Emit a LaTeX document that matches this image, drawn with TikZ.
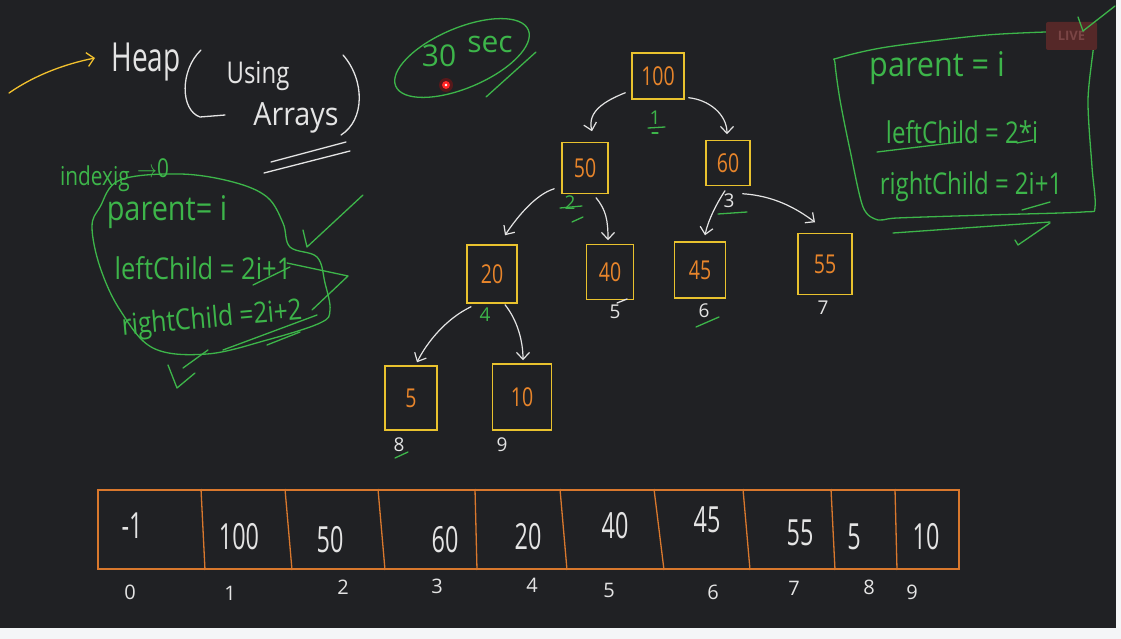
\documentclass[tikz,border=0pt]{standalone}
\usepackage{fontspec}
\setmainfont{Open Sans}
\usetikzlibrary{arrows.meta,calc}
\definecolor{bg}{HTML}{202124}
\definecolor{pagebg}{HTML}{F4F5F7}
\definecolor{boxy}{HTML}{E9C22E}
\definecolor{numo}{HTML}{E8852B}
\definecolor{grn}{HTML}{3DB54A}
\definecolor{chalk}{HTML}{E4E4E4}
\definecolor{arrc}{HTML}{D9782D}
\definecolor{ylw}{HTML}{F2C12E}
\definecolor{livebg}{HTML}{552828}
\definecolor{livetx}{HTML}{7A4545}
\newcommand{\hsq}[2]{\scalebox{#1}[1]{#2}}
\tikzset{
  heapnode/.style={draw=boxy, line width=1.5pt, inner sep=0pt, text=numo,
     font=\fontsize{26}{26}\selectfont},
  tedge/.style={draw=chalk, line width=1.2pt, line cap=round,
     -{Straight Barb[length=7pt,width=13pt]}},
  idxw/.style={text=chalk, inner sep=0pt, font=\fontsize{19}{19}\selectfont},
  idxg/.style={text=grn, inner sep=0pt, font=\fontsize{19}{19}\selectfont},
  arrnum/.style={text=chalk, inner sep=0pt, font=\fontsize{36}{36}\selectfont},
  arridx/.style={text=chalk, inner sep=0pt, font=\fontsize{20}{20}\selectfont},
  gtxt/.style={text=grn, inner sep=0pt},
  wtxt/.style={text=chalk, inner sep=0pt},
  gline/.style={draw=grn, line width=1.3pt, line cap=round, line join=round},
  wline/.style={draw=chalk, line width=1.3pt, line cap=round, line join=round},
}
\begin{document}
\begin{tikzpicture}[x=1pt,y=-1pt]
\fill[pagebg] (0,0) rectangle (1121,639);
\fill[bg] (0,0) rectangle (1116,628);
\useasboundingbox (0,0) rectangle (1121,639);

% ---------- title ----------
\draw[draw=ylw, line width=1.3pt, line cap=round, -{Straight Barb[length=7pt,width=14pt]}]
  (9,93) .. controls (35,75) and (65,64) .. (95,58);
\node[wtxt, font=\fontsize{40}{40}\selectfont] (title) at (146,62) {\hsq{0.7}{Heap}};
\draw[wline] (201,50) .. controls (180,70) and (180,110) .. (200,117) -- (225,115);
\node[wtxt, font=\fontsize{30}{30}\selectfont] (using) at (258,76) {\hsq{0.8}{Using}};
\node[wtxt, font=\fontsize{32}{32}\selectfont] (arrays) at (296,118) {\hsq{0.9}{Arrays}};
\draw[wline] (343,55) .. controls (365,80) and (365,120) .. (341,135);
\draw[wline] (271,162) -- (346,142);
\draw[wline] (264,173) -- (350,151);

% ---------- 30 sec ----------
\draw[gline] [rotate around={23:(462,58)}] (462,58) ellipse [x radius=72pt, y radius=30pt];
\draw[gline] (486,97) -- (536,52);
\node[gtxt, font=\fontsize{30}{30}\selectfont] (sec30) at (439,56) {30};
\node[gtxt, font=\fontsize{30}{30}\selectfont] (secw) at (490,44) {sec};
\fill[red, opacity=0.25] (446,85) circle (7pt);
\fill[red!85!white] (446,85) circle (4pt);
\fill[white] (446,85) circle (1.3pt);

% ---------- left green note ----------
\node[gtxt, font=\fontsize{26}{26}\selectfont] (idxw) at (95,179) {\hsq{0.8}{indexig}};
\node[gtxt, font=\fontsize{26}{26}\selectfont] (idxv) at (153,168) {\hsq{0.8}{$\rightarrow$0}};
\draw[gline] plot[smooth cycle, tension=0.6] coordinates {
  (120,180) (180,174) (233,182) (267,197) (283,223) (290,247) (317,257)
  (325,283) (330,310) (320,323) (267,340) (207,354) (153,348) (120,310)
  (100,267) (92,227) (100,207)};
\node[gtxt, font=\fontsize{34}{34}\selectfont] (lpar) at (167,212) {\hsq{0.85}{parent= i}};
\node[gtxt, font=\fontsize{30}{30}\selectfont] (llc) at (203,268) {\hsq{0.85}{leftChild = 2i+1}};
\node[gtxt, font=\fontsize{29}{29}\selectfont, rotate=5] (lrc) at (212,320) {\hsq{0.85}{rightChild =2i+2}};
\draw[gline] (287,263) -- (348,276) -- (312,310);
\draw[gline] (253,285) -- (290,267);
\draw[gline] (223,350) -- (317,315);
\draw[gline] (267,345) -- (300,332);
\draw[gline] (303,230) -- (307,247) -- (363,195);
\draw[gline] (168,365) -- (177,388) -- (195,373);
\draw[gline] (183,368) -- (208,350);

% ---------- right green note ----------
\draw[gline] plot[smooth cycle, tension=0.5] coordinates {
  (838,58) (887,47) (987,35) (1080,31) (1092,33) (1094,42) (1088,100)
  (1092,167) (1095,207) (1083,212) (987,215) (897,218) (878,220)
  (863,207) (850,150) (840,100) (835,63)};
\fill[livebg, rounded corners=2pt] (1046,22) rectangle (1097,50);
\node[text=livetx, font=\bfseries\fontsize{13}{13}\selectfont] (live) at (1071.5,36) {LIVE};
\draw[gline] (1083,31) -- (1115,6);
\draw[gline] (1078,17) -- (1083,31);
\node[gtxt, font=\fontsize{34}{34}\selectfont] (rpar) at (937,68) {\hsq{0.9}{parent = i}};
\node[gtxt, font=\fontsize{30}{30}\selectfont] (rlc) at (962,132) {\hsq{0.8}{leftChild = 2*i}};
\node[gtxt, font=\fontsize{30}{30}\selectfont] (rrc) at (971,187) {\hsq{0.8}{rightChild = 2i+1}};
\draw[gline] (877,152) -- (960,142);
\draw[gline] (1017,143) -- (1033,140);
\draw[gline] (1022,210) -- (1050,202);
\draw[gline] (893,233) -- (1050,222);
\draw[gline] (1015,240) -- (1018,245) -- (1050,223);

% ---------- tree ----------
\node[heapnode, minimum width=52pt, minimum height=46pt] (n100) at (658,76) {\hsq{0.75}{100}};
\node[heapnode, minimum width=46pt, minimum height=51pt] (n50) at (585,168) {\hsq{0.75}{50}};
\node[heapnode, minimum width=44pt, minimum height=45pt] (n60) at (728,163) {\hsq{0.75}{60}};
\node[heapnode, minimum width=50pt, minimum height=58pt] (n20) at (492,274) {\hsq{0.75}{20}};
\node[heapnode, minimum width=47pt, minimum height=55pt] (n40) at (610,272) {\hsq{0.75}{40}};
\node[heapnode, minimum width=51pt, minimum height=56pt] (n45) at (700,270) {\hsq{0.75}{45}};
\node[heapnode, minimum width=54pt, minimum height=61pt] (n55) at (825,264) {\hsq{0.75}{55}};
\node[heapnode, minimum width=52pt, minimum height=64pt] (n5) at (411,398) {\hsq{0.75}{5}};
\node[heapnode, minimum width=59pt, minimum height=66pt] (n10) at (522,397) {\hsq{0.75}{10}};

\draw[tedge] ($(n100.south west)+(-6,-7)$) .. controls +(-20,8) and +(-5,-20) .. ($(n50.north)+(7,-10.5)$);
\draw[tedge] ($(n100.south east)+(4,-2)$) .. controls +(20,2) and +(0,-20) .. ($(n60.north)+(-1,-5.5)$);
\draw[tedge] ($(n50.south west)+(-7,-5.5)$) .. controls +(-20,6) and +(10,-15) .. ($(n20.north)+(13,-9)$);
\draw[tedge] ($(n50.south)+(11,3.5)$) .. controls +(10,12) and +(0,-20) .. ($(n40.north)+(-2,-3.5)$);
\draw[tedge] ($(n60.south)+(-3,4.5)$) .. controls +(-8,12) and +(3,-15) .. ($(n45.north)+(5,-6)$);
\draw[tedge] ($(n60.south east)+(-8,7.5)$) .. controls +(30,2) and +(-20,-15) .. ($(n55.north)+(-10,-10.5)$);
\draw[tedge] ($(n20.south)+(-21,3)$) .. controls +(-25,12) and +(10,-20) .. ($(n5.north)+(6,-3)$);
\draw[tedge] ($(n20.south)+(13,1)$) .. controls +(12,15) and +(0,-20) .. ($(n10.north)+(1,-3)$);

% tree index labels
\node[idxg] (t1) at (655,118) {1};
\draw[gline] (648,128) -- (665,127);
\draw[gline] (652,133) -- (658,133);
\node[idxg] (t2) at (570,203) {2};
\draw[gline] (560,208) -- (582,206);
\draw[gline] (572,222) -- (583,217);
\node[idxw] (t3) at (729,201) {3};
\draw[gline] (718,214) -- (747,212);
\node[idxg] (t4) at (485,315) {4};
\node[idxw] (t5) at (615,312) {5};
\draw[wline] (617,303) -- (627,299);
\node[idxw] (t6) at (704,311) {6};
\draw[gline] (696,327) -- (719,317);
\node[idxw] (t7) at (823,308) {7};
\node[idxw] (t8) at (399,445) {8};
\draw[gline] (395,458) -- (408,452);
\node[idxw] (t9) at (502,445) {9};

% ---------- array ----------
\node[draw=arrc, line width=2pt, minimum width=861pt, minimum height=79pt, inner sep=0pt] (array) at (528.5,529.5) {};
\foreach \a/\b in {104/108,188/195,281/288,378/380,463/470,557/567,646/653,734/738,798/800}
  \draw[draw=arrc, line width=1.3pt] ($(array.north west)+(\a,0)$) -- ($(array.south west)+(\b,0)$);

\node[arrnum] (c0) at (132,526) {\hsq{0.65}{-1}};
\node[arrnum] (c1) at (239,537) {\hsq{0.65}{100}};
\node[arrnum] (c2) at (330,540) {\hsq{0.65}{50}};
\node[arrnum] (c3) at (445,540) {\hsq{0.65}{60}};
\node[arrnum] (c4) at (528,537) {\hsq{0.65}{20}};
\node[arrnum] (c5) at (615,526) {\hsq{0.65}{40}};
\node[arrnum] (c6) at (707,520) {\hsq{0.65}{45}};
\node[arrnum] (c7) at (800,533) {\hsq{0.65}{55}};
\node[arrnum] (c8) at (854,537) {\hsq{0.65}{5}};
\node[arrnum] (c9) at (926,537) {\hsq{0.65}{10}};

\node[arridx] (k0) at (130,592) {0};
\node[arridx] (k1) at (230,593) {1};
\node[arridx] (k2) at (343,587) {2};
\node[arridx] (k3) at (437,586) {3};
\node[arridx] (k4) at (532,585) {4};
\node[arridx] (k5) at (609,590) {5};
\node[arridx] (k6) at (713,592) {6};
\node[arridx] (k7) at (794,588) {7};
\node[arridx] (k8) at (869,587) {8};
\node[arridx] (k9) at (912,592) {9};
\end{tikzpicture}
\end{document}
